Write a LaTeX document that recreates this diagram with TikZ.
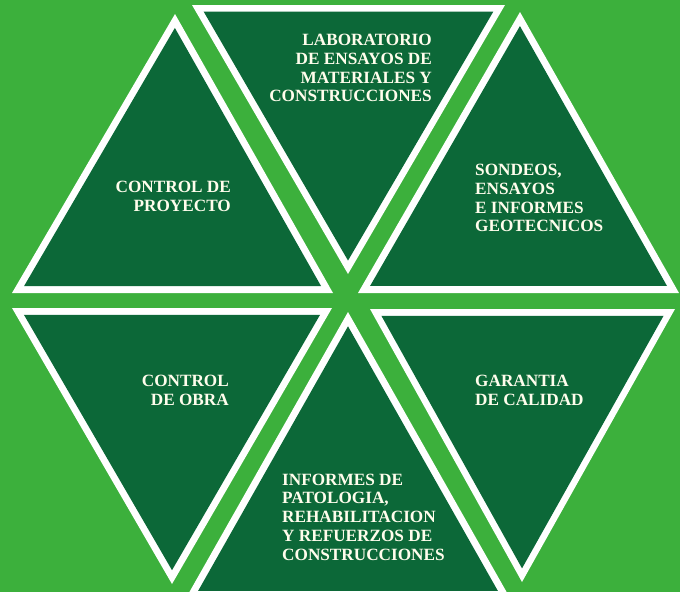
\documentclass[tikz,border=0pt]{standalone}
\usepackage{fontspec}
\setmainfont{Liberation Serif}
\usetikzlibrary{calc}

\definecolor{bggreen}{RGB}{60,176,60}
\definecolor{tridark}{RGB}{12,104,56}
\definecolor{labelcream}{RGB}{255,253,236}

\tikzset{
  rim/.style={fill=white},
  face/.style={fill=tridark},
  lbl/.style={text=labelcream, inner sep=0pt,
    font=\bfseries\fontsize{17.2}{18.8}\selectfont},
}

% A framed triangle: #1 name, #2 #3 #4 outer corners.
% The dark face is the outer triangle shrunk towards its centre.
\newcommand\tripanel[4]{%
  \coordinate (#1a) at #2;
  \coordinate (#1b) at #3;
  \coordinate (#1c) at #4;
  \coordinate (#1o) at (barycentric cs:#1a=1,#1b=1,#1c=1);
  \fill[rim] (#1a) -- (#1b) -- (#1c) -- cycle;
  \fill[face] ($(#1o)!0.925!(#1a)$) -- ($(#1o)!0.925!(#1b)$)
              -- ($(#1o)!0.925!(#1c)$) -- cycle;
}

\begin{document}
\begin{tikzpicture}[x=1pt,y=-1pt]
  \fill[bggreen] (0,0) rectangle (680,592);
  \useasboundingbox (0,0) rectangle (680,592);
  \begin{scope}
    \clip (0,0) rectangle (680,592);
    % upper row
    \tripanel{tl}{(12,293)}{(333,293)}{(175,14)}
    \tripanel{tm}{(192,5)}{(505,5)}{(348,274)}
    \tripanel{tr}{(358,293)}{(679,293)}{(520,12)}
    % lower row
    \tripanel{bl}{(12,308)}{(332,308)}{(172,584)}
    \tripanel{bm}{(186,598)}{(510,598)}{(348,312)}
    \tripanel{br}{(370,309)}{(675,309)}{(522,582)}
  \end{scope}

  \node[lbl, align=right, anchor=east] (proyecto) at (231,196)
    {CONTROL DE\\PROYECTO};
  \node[lbl, align=right, anchor=east] (laboratorio) at (432,68)
    {LABORATORIO\\DE ENSAYOS DE\\MATERIALES Y\\CONSTRUCCIONES};
  \node[lbl, align=left, anchor=west] (sondeos) at (475,198)
    {SONDEOS,\\ENSAYOS\\E INFORMES\\GEOTECNICOS};
  \node[lbl, align=right, anchor=east] (obra) at (229,390)
    {CONTROL\\DE OBRA};
  \node[lbl, align=left, anchor=west] (garantia) at (475,390)
    {GARANTIA\\DE CALIDAD};
  \node[lbl, align=left, anchor=west] (patologia) at (282,517)
    {INFORMES DE\\PATOLOGIA,\\REHABILITACION\\Y REFUERZOS DE\\CONSTRUCCIONES};
\end{tikzpicture}
\end{document}
